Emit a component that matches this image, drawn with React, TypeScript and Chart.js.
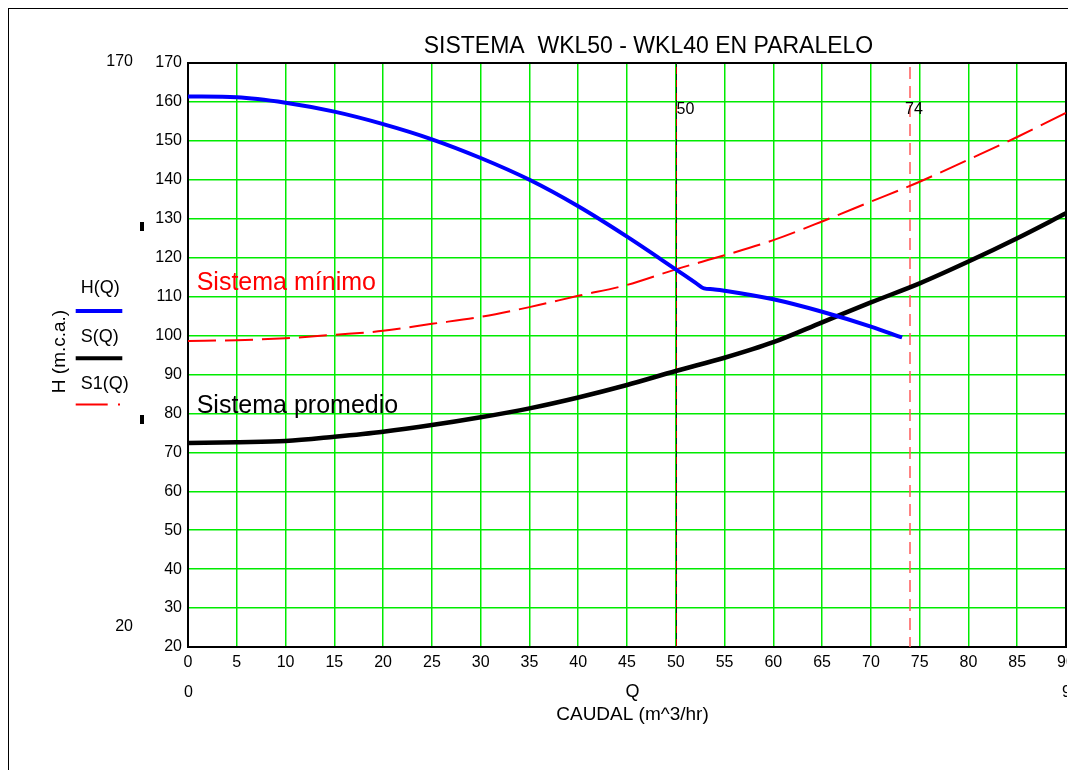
import React, { useEffect, useRef } from "react";
import { Chart, registerables } from "chart.js";

Chart.register(...registerables);

// Pump curve H(Q) for the two pumps in parallel
const Q_PUMP = [0, 5, 10, 15, 20, 25, 30, 35, 40, 45, 50, 52, 52.9, 53.8, 55, 60, 65, 70, 73.2];
const H_PUMP = [161.4, 161.2, 159.8, 157.5, 154.3, 150.4, 145.6, 140.0, 133.2, 125.4, 117.0, 113.6, 112.1, 111.9, 111.5, 109.3, 106.1, 102.3, 99.5];

// System curves S(Q) (average) and S1(Q) (minimum)
const Q_SYS = [0, 5, 10, 15, 20, 25, 30, 35, 40, 45, 50, 55, 60, 65, 70, 75, 80, 85, 90];
const S_AVG = [72.4, 72.6, 72.9, 74.0, 75.3, 77.0, 79.0, 81.3, 84.1, 87.3, 90.9, 94.3, 98.3, 103.4, 108.5, 113.4, 119.0, 125.0, 131.4];
const S_MIN = [98.6, 98.8, 99.3, 100.2, 101.2, 103.0, 104.8, 107.3, 110.2, 113.0, 117.0, 120.6, 124.5, 129.3, 134.4, 139.5, 145.2, 151.0, 157.2];

// Operating-point flows marked with vertical lines
const MARK_Q = [50, 74];

const X_MIN = 0;
const X_MAX = 90;
const X_STEP = 5;
const Y_MIN = 20;
const Y_MAX = 170;
const Y_STEP = 10;

const TITLE = "SISTEMA  WKL50 - WKL40 EN PARALELO";
const Y_TITLE = "H (m.c.a.)";
const X_VAR = "Q";
const X_TITLE = "CAUDAL (m^3/hr)";
const LEGEND = ["H(Q)", "S(Q)", "S1(Q)"];
const NOTE_MIN = "Sistema mínimo";
const NOTE_AVG = "Sistema promedio";

const FONT = '"Liberation Sans", Arial, sans-serif';
const GRID_GREEN = "rgb(0,235,0)";
const BLUE = "#0000ff";
const RED = "#ff0000";

const pts = (xs: number[], ys: number[]) => xs.map((x, i) => ({ x, y: ys[i] }));

const decor = {
  id: "decor",
  beforeDatasetsDraw(chart: any) {
    const { ctx, chartArea: a, scales } = chart;
    const xs = scales.x;
    ctx.save();
    // frame around the plot
    ctx.strokeStyle = "#000";
    ctx.lineWidth = 2;
    ctx.strokeRect(a.left, a.top, a.right - a.left, a.bottom - a.top);

    // operating point lines
    const x1 = Math.round(xs.getPixelForValue(MARK_Q[0])) + 0.5;
    ctx.lineWidth = 1;
    ctx.strokeStyle = "#202020";
    ctx.beginPath();
    ctx.moveTo(x1, a.top);
    ctx.lineTo(x1, a.bottom);
    ctx.stroke();
    ctx.strokeStyle = "#d00000";
    ctx.setLineDash([7, 6]);
    ctx.beginPath();
    ctx.moveTo(x1, a.top + 4);
    ctx.lineTo(x1, a.bottom);
    ctx.stroke();

    const x2 = Math.round(xs.getPixelForValue(MARK_Q[1]));
    ctx.strokeStyle = "#ff5a5a";
    ctx.lineWidth = 1.5;
    ctx.setLineDash([12, 7]);
    ctx.beginPath();
    ctx.moveTo(x2, a.top + 4);
    ctx.lineTo(x2, a.bottom);
    ctx.stroke();
    ctx.setLineDash([]);

    ctx.fillStyle = "#000";
    ctx.font = `16px ${FONT}`;
    ctx.textBaseline = "alphabetic";
    ctx.textAlign = "left";
    ctx.fillText(String(MARK_Q[0]), x1, 106);
    ctx.fillText(String(MARK_Q[1]), x2 - 5, 106);
    ctx.restore();
  },
  afterDraw(chart: any) {
    const { ctx, chartArea: a } = chart;
    ctx.save();
    ctx.fillStyle = "#000";
    ctx.textBaseline = "alphabetic";

    // title
    ctx.font = `23px ${FONT}`;
    ctx.textAlign = "center";
    ctx.fillText(TITLE, 640.5, 45);

    // range labels outside the axes
    ctx.font = `16px ${FONT}`;
    ctx.textAlign = "right";
    ctx.fillText(String(Y_MAX), 125, 58);
    ctx.fillText(String(Y_MIN), 125, 622.5);
    ctx.textAlign = "center";
    ctx.fillText(String(X_MIN), a.left + 0.5, 689);
    ctx.textAlign = "left";
    ctx.fillText(String(X_MAX), 1054, 689);

    // x-axis titles
    ctx.font = `18px ${FONT}`;
    ctx.textAlign = "center";
    ctx.fillText(X_VAR, 624.5, 689);
    ctx.font = `19px ${FONT}`;
    ctx.fillText(X_TITLE, 624.5, 712);

    // y-axis title
    ctx.save();
    ctx.translate(57, 343.5);
    ctx.rotate(-Math.PI / 2);
    ctx.font = `19px ${FONT}`;
    ctx.textAlign = "center";
    ctx.fillText(Y_TITLE, 0, 0);
    ctx.restore();

    // legend
    ctx.font = `18px ${FONT}`;
    ctx.textAlign = "left";
    ctx.fillText(LEGEND[0], 72.7, 285);
    ctx.fillText(LEGEND[1], 72.7, 333.7);
    ctx.fillText(LEGEND[2], 72.7, 381);
    ctx.lineCap = "butt";
    ctx.lineWidth = 4;
    ctx.strokeStyle = BLUE;
    ctx.beginPath();
    ctx.moveTo(67.7, 303);
    ctx.lineTo(114.3, 303);
    ctx.stroke();
    ctx.strokeStyle = "#000";
    ctx.beginPath();
    ctx.moveTo(67.7, 350.3);
    ctx.lineTo(114.3, 350.3);
    ctx.stroke();
    ctx.lineWidth = 2;
    ctx.strokeStyle = RED;
    ctx.beginPath();
    ctx.moveTo(67.7, 396.5);
    ctx.lineTo(99.7, 396.5);
    ctx.moveTo(110, 396.5);
    ctx.lineTo(112, 396.5);
    ctx.stroke();

    // small axis markers
    ctx.fillStyle = "#000";
    ctx.fillRect(132, 214, 4, 9);
    ctx.fillRect(132, 407, 4, 9);

    // curve notes
    ctx.font = `25px ${FONT}`;
    ctx.fillStyle = RED;
    ctx.fillText(NOTE_MIN, 188.7, 282.3);
    ctx.fillStyle = "#000";
    ctx.fillText(NOTE_AVG, 188.7, 405.3);
    ctx.restore();
  },
};

export default function App() {
  const ref = useRef<HTMLCanvasElement>(null);

  useEffect(() => {
    document.body.style.overflow = "hidden";
    const canvas = ref.current;
    if (!canvas) return;
    const chart = new Chart(canvas, {
      type: "line",
      data: {
        datasets: [
          {
            label: LEGEND[0],
            data: pts(Q_PUMP, H_PUMP),
            borderColor: BLUE,
            borderWidth: 4,
            pointRadius: 0,
            cubicInterpolationMode: "monotone",
            order: 1,
          },
          {
            label: LEGEND[1],
            data: pts(Q_SYS, S_AVG),
            borderColor: "#000000",
            borderWidth: 4.5,
            pointRadius: 0,
            cubicInterpolationMode: "monotone",
            order: 2,
          },
          {
            label: LEGEND[2],
            data: pts(Q_SYS, S_MIN),
            borderColor: RED,
            borderWidth: 2,
            borderDash: [28, 9],
            pointRadius: 0,
            cubicInterpolationMode: "monotone",
            order: 3,
          },
        ],
      },
      options: {
        animation: false,
        responsive: false,
        devicePixelRatio: 1,
        layout: {
          autoPadding: false,
          padding: { top: 55, left: 0, right: 1, bottom: 0 },
        },
        plugins: {
          legend: { display: false },
          title: { display: false },
          tooltip: { enabled: false },
        },
        scales: {
          x: {
            type: "linear",
            min: X_MIN,
            max: X_MAX,
            afterFit: (s: any) => {
              s.height = 123;
              s.paddingLeft = 0;
              s.paddingRight = 0;
            },
            ticks: {
              stepSize: X_STEP,
              padding: 6,
              maxRotation: 0,
              autoSkip: false,
              color: "#000",
              font: { family: FONT, size: 16 },
            },
            grid: { color: GRID_GREEN, lineWidth: 1.5, drawTicks: false },
            border: { display: true, color: "#000", width: 2 },
          },
          y: {
            type: "linear",
            min: Y_MIN,
            max: Y_MAX,
            afterFit: (s: any) => {
              s.width = 180;
              s.paddingTop = 0;
              s.paddingBottom = 0;
            },
            ticks: {
              stepSize: Y_STEP,
              padding: 6,
              autoSkip: false,
              color: "#000",
              font: { family: FONT, size: 16 },
            },
            grid: { color: GRID_GREEN, lineWidth: 1.5, drawTicks: false },
            border: { display: true, color: "#000", width: 2 },
          },
        },
      },
      plugins: [decor],
    } as any);
    return () => chart.destroy();
  }, []);

  return (
    <div style={{ position: "relative", width: 1068, height: 762, background: "#fff" }}>
      <canvas
        ref={ref}
        width={1059}
        height={762}
        style={{ position: "absolute", left: 0, top: 0, width: 1059, height: 762 }}
      />
      <div
        style={{
          position: "absolute",
          left: -1,
          top: -1,
          width: 1069,
          height: 763,
          borderLeft: "2px solid #000",
          borderTop: "2px solid #000",
          boxSizing: "border-box",
          pointerEvents: "none",
        }}
      />
    </div>
  );
}
